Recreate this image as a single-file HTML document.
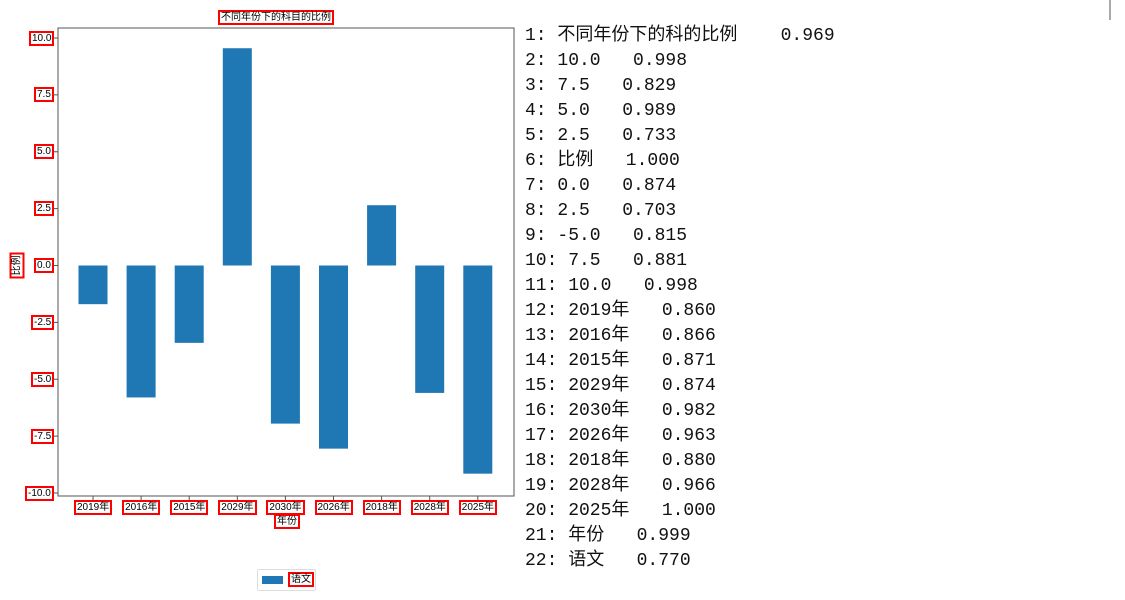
<!DOCTYPE html>
<html><head><meta charset="utf-8"><style>
body{margin:0;width:1125px;height:600px;background:#fff;overflow:hidden;position:relative;font-family:"Liberation Sans","Noto Sans CJK SC",sans-serif}
.box{position:absolute;border:2px solid #f00;font-size:10px;line-height:11px;padding:0 1px;color:#000;white-space:nowrap;background:#fff}
#list{position:absolute;left:525px;top:24px;font-family:"Liberation Mono","Noto Sans CJK SC",monospace;font-size:18px;line-height:25px;white-space:pre;color:#111}
</style></head><body>
<svg id="chart" width="1125" height="600" style="position:absolute;left:0;top:0">
<rect x="58" y="28" width="456" height="468" fill="none" stroke="#555" stroke-width="1"/>
<g id="bars"></g><g id="ticks"></g>
<line x1="1110" y1="0" x2="1110" y2="20" stroke="#555"/>
</svg>
<div class="box" style="left:218px;top:10px">不同年份下的科目的比例</div>
<div class="box" style="left:274px;top:514px">年份</div>
<div class="box" style="left:4px;top:258px;transform:rotate(-90deg)">比例</div>
<div style="position:absolute;left:257px;top:569px;width:57px;height:20px;border:1px solid #ddd;border-radius:2px;background:#fff">
<div style="position:absolute;left:4px;top:6px;width:21px;height:8px;background:#1f77b4"></div></div>
<div class="box" style="left:288px;top:572px">语文</div>
<div id="list">1: 不同年份下的科的比例    0.969
2: 10.0   0.998
3: 7.5   0.829
4: 5.0   0.989
5: 2.5   0.733
6: 比例   1.000
7: 0.0   0.874
8: 2.5   0.703
9: -5.0   0.815
10: 7.5   0.881
11: 10.0   0.998
12: 2019年   0.860
13: 2016年   0.866
14: 2015年   0.871
15: 2029年   0.874
16: 2030年   0.982
17: 2026年   0.963
18: 2018年   0.880
19: 2028年   0.966
20: 2025年   1.000
21: 年份   0.999
22: 语文   0.770</div>
<script>
const categories=["2019年","2016年","2015年","2029年","2030年","2026年","2018年","2028年","2025年"];
const values=[-1.7,-5.8,-3.4,9.55,-6.95,-8.05,2.65,-5.6,-9.15];
const yTicks=[10,7.5,5,2.5,0,-2.5,-5,-7.5,-10];
const yTickLabels=["10.0","7.5","5.0","2.5","0.0","-2.5","-5.0","-7.5","-10.0"];
const ns="http://www.w3.org/2000/svg";
const y=v=>265.5-v*22.75;
const x=i=>93+i*48.1;
const bars=document.getElementById('bars'),ticks=document.getElementById('ticks');
values.forEach((v,i)=>{
 const r=document.createElementNS(ns,'rect');
 
 
 r.setAttribute('x',x(i)-14.5);r.setAttribute('width',29);
 r.setAttribute('y',Math.min(y(v),y(0)));r.setAttribute('height',Math.abs(y(v)-y(0)));
 r.setAttribute('fill','#1f77b4');bars.appendChild(r);
 const t=document.createElementNS(ns,'line');
 t.setAttribute('x1',x(i));t.setAttribute('x2',x(i));t.setAttribute('y1',496);t.setAttribute('y2',500);t.setAttribute('stroke','#555');ticks.appendChild(t);
 const d=document.createElement('div');
 d.className='box';
 
 
 d.textContent=categories[i];d.style.top='500px';document.body.appendChild(d);
 d.style.left=(x(i)-d.offsetWidth/2)+'px';
});
yTicks.forEach((v,i)=>{
 const t=document.createElementNS(ns,'line');
 t.setAttribute('x1',54);t.setAttribute('x2',58);t.setAttribute('y1',y(v));t.setAttribute('y2',y(v));t.setAttribute('stroke','#555');ticks.appendChild(t);
 const d=document.createElement('div');
 d.className='box';
 
 
 d.textContent=yTickLabels[i];document.body.appendChild(d);
 d.style.left=(54-d.offsetWidth)+'px';d.style.top=(y(v)-d.offsetHeight/2)+'px';
});
</script>
</body></html>
